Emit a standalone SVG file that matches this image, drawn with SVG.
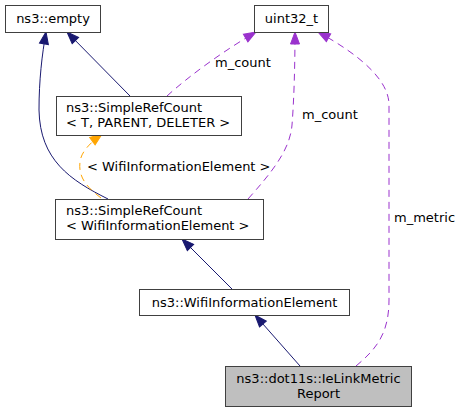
<svg xmlns="http://www.w3.org/2000/svg" width="462" height="412" viewBox="0 0 462 412">
<style>
.box{fill:#ffffff;stroke:#404040;stroke-width:1}
.cur{fill:#bfbfbf;stroke:#404040;stroke-width:1}
text{font-family:"DejaVu Sans","Liberation Sans",sans-serif;font-size:13px;fill:#000000}
.c{text-anchor:middle}
.inh{fill:none;stroke:#191970;stroke-width:1}
.use{fill:none;stroke:#9a32cd;stroke-width:1;stroke-dasharray:7,5}
.tpl{fill:none;stroke:#ffa500;stroke-width:1;stroke-dasharray:7,5}
</style>
<defs>
<marker id="aBlue" markerUnits="userSpaceOnUse" markerWidth="14" markerHeight="11" refX="12" refY="4.5" orient="auto" overflow="visible">
<path d="M0,0 L12,4.5 L0,9 z" fill="#191970" stroke="#191970" stroke-width="1"/>
</marker>
<marker id="aPurple" markerUnits="userSpaceOnUse" markerWidth="14" markerHeight="11" refX="12" refY="4.5" orient="auto" overflow="visible">
<path d="M0,0 L12,4.5 L0,9 z" fill="#9a32cd" stroke="#9a32cd" stroke-width="1"/>
</marker>
<marker id="aOrange" markerUnits="userSpaceOnUse" markerWidth="14" markerHeight="11" refX="12" refY="4.5" orient="auto" overflow="visible">
<path d="M0,0 L12,4.5 L0,9 z" fill="#ffa500" stroke="#ffa500" stroke-width="1"/>
</marker>
</defs>
<rect width="462" height="412" fill="#ffffff"/>
<g id="connectors">
<path class="inh" d="M130,96 L67,32" marker-end="url(#aBlue)"/>
<path class="inh" d="M108,199 C70,180 40,160 39,110 C39,80 42,55 46,32" marker-end="url(#aBlue)"/>
<path class="tpl" d="M101,198 C88,188 78,178 80,162 C81,152 90,143 102,134" marker-end="url(#aOrange)"/>
<path class="use" d="M167,96 C190,75 225,50 256,32" marker-end="url(#aPurple)"/>
<path class="use" d="M248,199 C272,172 290,150 292,125 C294,100 295,65 295,32" marker-end="url(#aPurple)"/>
<path class="use" d="M356,366 C375,350 389,335 389,300 L389,105 C389,80 360,55 318,32" marker-end="url(#aPurple)"/>
<path class="inh" d="M232,289 L182,239" marker-end="url(#aBlue)"/>
<path class="inh" d="M300,366 L255,315" marker-end="url(#aBlue)"/>
<text x="215" y="67">m_count</text>
<text x="302" y="119">m_count</text>
<text x="394" y="222">m_metric</text>
<text x="87" y="171">&lt; WifiInformationElement &gt;</text>
</g>
<g id="node_empty">
<rect class="box" x="5.5" y="5.5" width="95" height="27"/>
<text class="c" x="53" y="22.5">ns3::empty</text>
</g>
<g id="node_uint32">
<rect class="box" x="254.5" y="5.5" width="74" height="27"/>
<text class="c" x="291.5" y="22.5">uint32_t</text>
</g>
<g id="node_src_t">
<rect class="box" x="56.5" y="96.5" width="185" height="39"/>
<text x="66" y="112">ns3::SimpleRefCount</text>
<text x="66" y="127">&lt; T, PARENT, DELETER &gt;</text>
</g>
<g id="node_src_wie">
<rect class="box" x="55.5" y="199.5" width="208" height="40"/>
<text x="66" y="215">ns3::SimpleRefCount</text>
<text x="66" y="230">&lt; WifiInformationElement &gt;</text>
</g>
<g id="node_wie">
<rect class="box" x="139.5" y="289.5" width="210" height="26"/>
<text class="c" x="244.5" y="306.5">ns3::WifiInformationElement</text>
</g>
<g id="node_ielmr">
<rect class="cur" x="225.5" y="366.5" width="186" height="40"/>
<text class="c" x="318.5" y="383">ns3::dot11s::IeLinkMetric</text>
<text class="c" x="318.5" y="397.5">Report</text>
</g>
</svg>
